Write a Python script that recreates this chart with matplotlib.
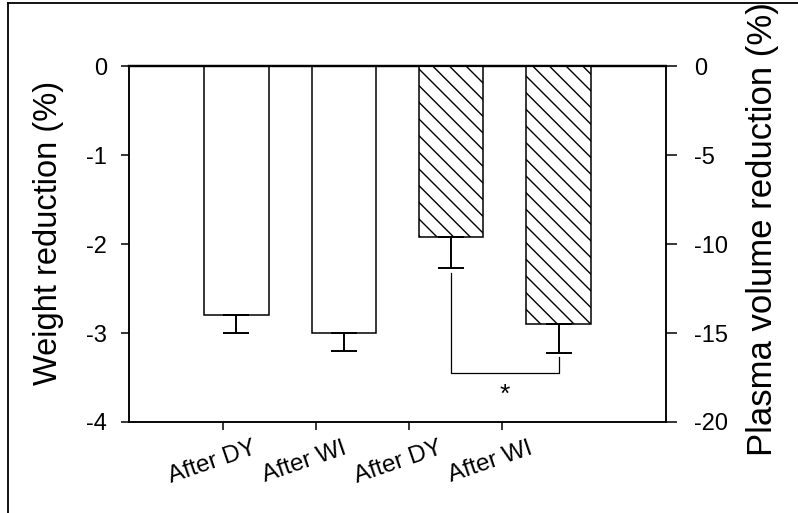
import matplotlib.pyplot as plt
from matplotlib.lines import Line2D
from matplotlib.transforms import ScaledTranslation

plt.rcParams['font.family'] = ['Liberation Sans', 'DejaVu Sans']
plt.rcParams['axes.unicode_minus'] = False

# weight (left axis) and plasma volume (right axis)
weight_pos = [1, 2]
weight_vals = [-2.8, -3.0]
weight_err = [0.2, 0.2]
plasma_pos = [3, 4]
plasma_vals = [-9.6, -14.5]
plasma_err = [1.75, 1.6]
tick_pos = [0.875, 1.74, 2.61, 3.47]
tick_labels = ["After DY", "After WI", "After DY", "After WI"]
bracket_x = [3, 3, 4, 4]
bracket_y = [-11.63, -17.25, -17.25, -16.35]


def main():
    fig = plt.figure(figsize=(7.98, 5.13), dpi=100)
    ax = fig.add_axes([0.1617, 0.1774, 0.6729, 0.6939])
    ax2 = ax.twinx()

    ax.bar(weight_pos, weight_vals, width=0.6, color="white",
           edgecolor="black", linewidth=1.1, zorder=2)
    ax.errorbar(weight_pos, weight_vals, yerr=[weight_err, [0, 0]],
                fmt="none", ecolor="black", elinewidth=1.4, capsize=9.5,
                capthick=1.4, zorder=3)
    ax2.bar(plasma_pos, plasma_vals, width=0.6, color="white",
            edgecolor="black", linewidth=1.1, hatch="\\\\", zorder=2)
    ax2.errorbar(plasma_pos, plasma_vals, yerr=[plasma_err, [0, 0]],
                 fmt="none", ecolor="black", elinewidth=1.4, capsize=9.5,
                 capthick=1.4, zorder=3)
    ax2.plot(bracket_x, bracket_y, color="black", linewidth=0.9)
    ax2.text(3.5, -18.45, "*", ha="center", va="center", fontsize=19)

    ax.set_xlim(0, 5)
    ax.set_ylim(-4, 0)
    ax2.set_ylim(-20, 0)
    ax.set_yticks([0, -1, -2, -3, -4])
    ax2.set_yticks([0, -5, -10, -15, -20])
    ax.set_xticks(tick_pos)
    ax.set_xticklabels(tick_labels, rotation=19, ha="center", fontsize=17.5)

    for a in (ax, ax2):
        a.spines["bottom"].set_linewidth(1.1)
        a.spines["left"].set_linewidth(1.1)
        a.spines["right"].set_linewidth(1.1)
        a.spines["top"].set_linewidth(1.6)
    ax.tick_params(axis="y", direction="out", length=6, width=1.1,
                   labelsize=17, pad=10)
    ax.tick_params(axis="x", direction="out", length=6, width=1.1, pad=5)
    ax2.tick_params(axis="y", direction="out", length=8, width=1.1,
                    labelsize=17, pad=12)

    offset = ScaledTranslation(-0.11, 0, fig.dpi_scale_trans)
    for lab in ax.get_xticklabels():
        lab.set_transform(lab.get_transform() + offset)

    fig.text(0.061, 0.546, "Weight reduction (%)", rotation=90,
             ha="center", va="center", fontsize=23.5)
    fig.text(0.956, 0.553, "Plasma volume reduction (%)", rotation=90,
             ha="center", va="center", fontsize=25)

    fig.add_artist(Line2D([0.01, 0.01], [0, 0.994], color="black",
                          linewidth=1.3, transform=fig.transFigure))
    fig.add_artist(Line2D([0.01, 1], [0.994, 0.994], color="black",
                          linewidth=1.3, transform=fig.transFigure))

    fig.savefig("out.png", dpi=100)


if __name__ == "__main__":
    main()
